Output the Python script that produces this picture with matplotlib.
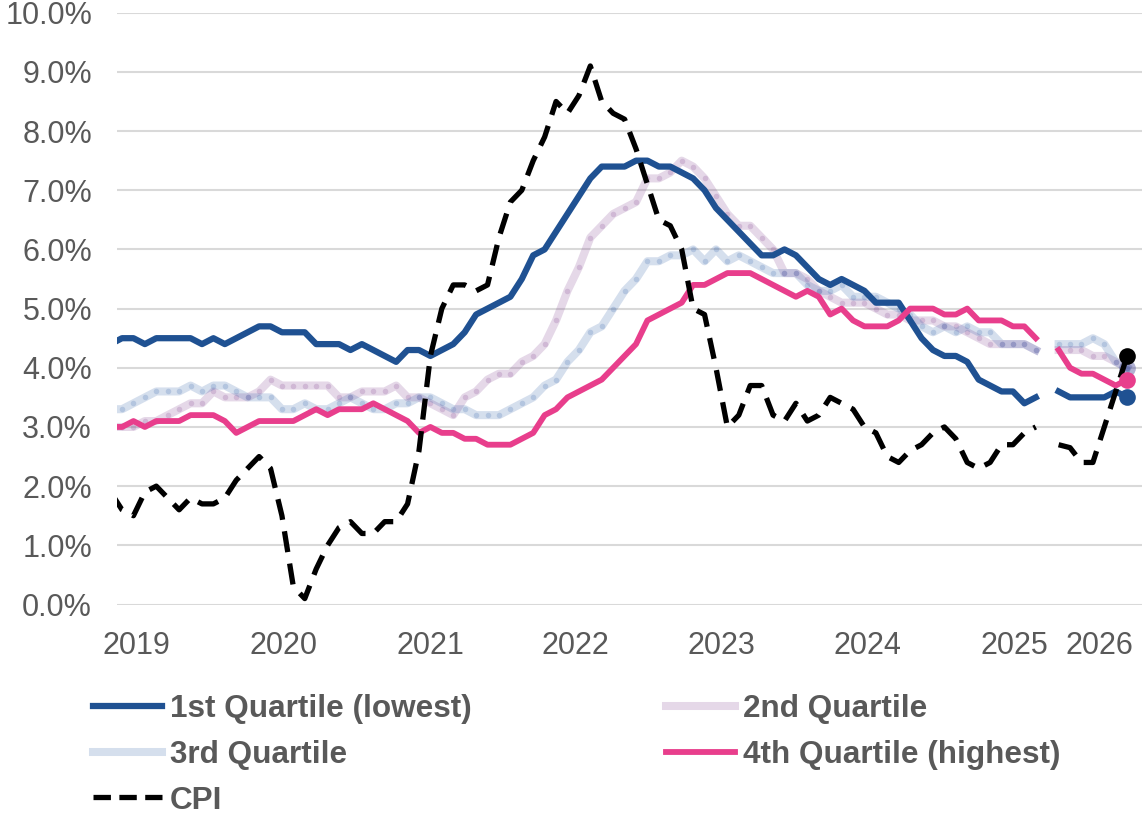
#!/usr/bin/env python3
"""Wage growth by wage quartile vs CPI inflation, monthly Dec 2018 - May 2026.

  python plot.py            # -> out.png
"""
import numpy as np
import pandas as pd
import matplotlib

matplotlib.use("Agg")
import matplotlib.pyplot as plt
from matplotlib.lines import Line2D

nan = np.nan

# monthly observations, Dec 2018 .. May 2026 (Oct 2025 missing)
MONTHS = pd.period_range("2018-12", "2026-05", freq="M")

Q1 = [4.4,
      4.5, 4.5, 4.4, 4.5, 4.5, 4.5, 4.5, 4.4, 4.5, 4.4, 4.5, 4.6,
      4.7, 4.7, 4.6, 4.6, 4.6, 4.4, 4.4, 4.4, 4.3, 4.4, 4.3, 4.2,
      4.1, 4.3, 4.3, 4.2, 4.3, 4.4, 4.6, 4.9, 5.0, 5.1, 5.2, 5.5,
      5.9, 6.0, 6.3, 6.6, 6.9, 7.2, 7.4, 7.4, 7.4, 7.5, 7.5, 7.4,
      7.4, 7.3, 7.2, 7.0, 6.7, 6.5, 6.3, 6.1, 5.9, 5.9, 6.0, 5.9,
      5.7, 5.5, 5.4, 5.5, 5.4, 5.3, 5.1, 5.1, 5.1, 4.8, 4.5, 4.3,
      4.2, 4.2, 4.1, 3.8, 3.7, 3.6, 3.6, 3.4, 3.5, nan, 3.6, 3.5,
      3.5, 3.5, 3.5, 3.6, 3.5]
Q2 = [3.0,
      3.0, 3.0, 3.1, 3.1, 3.2, 3.3, 3.4, 3.4, 3.6, 3.5, 3.5, 3.5,
      3.6, 3.8, 3.7, 3.7, 3.7, 3.7, 3.7, 3.5, 3.5, 3.6, 3.6, 3.6,
      3.7, 3.5, 3.5, 3.4, 3.3, 3.2, 3.5, 3.6, 3.8, 3.9, 3.9, 4.1,
      4.2, 4.4, 4.8, 5.3, 5.7, 6.2, 6.4, 6.6, 6.7, 6.8, 7.2, 7.2,
      7.3, 7.5, 7.4, 7.2, 6.9, 6.6, 6.4, 6.4, 6.2, 6.0, 5.6, 5.6,
      5.5, 5.3, 5.2, 5.1, 5.1, 5.1, 5.0, 4.9, 4.9, 4.8, 4.8, 4.8,
      4.7, 4.7, 4.6, 4.5, 4.4, 4.4, 4.4, 4.4, 4.3, nan, 4.3, 4.3,
      4.3, 4.2, 4.2, 4.1, 4.0]
Q3 = [3.3,
      3.3, 3.4, 3.5, 3.6, 3.6, 3.6, 3.7, 3.6, 3.7, 3.7, 3.6, 3.5,
      3.5, 3.5, 3.3, 3.3, 3.4, 3.3, 3.3, 3.4, 3.5, 3.4, 3.3, 3.3,
      3.4, 3.4, 3.5, 3.5, 3.4, 3.3, 3.3, 3.2, 3.2, 3.2, 3.3, 3.4,
      3.5, 3.7, 3.8, 4.1, 4.3, 4.6, 4.7, 5.0, 5.3, 5.5, 5.8, 5.8,
      5.9, 5.9, 6.0, 5.8, 6.0, 5.8, 5.9, 5.8, 5.7, 5.6, 5.6, 5.6,
      5.4, 5.3, 5.3, 5.4, 5.2, 5.2, 5.2, 5.1, 5.0, 4.9, 4.7, 4.6,
      4.7, 4.6, 4.7, 4.6, 4.6, 4.4, 4.4, 4.4, 4.3, nan, 4.4, 4.4,
      4.4, 4.5, 4.4, 4.1, 4.0]
Q4 = [3.0,
      3.0, 3.1, 3.0, 3.1, 3.1, 3.1, 3.2, 3.2, 3.2, 3.1, 2.9, 3.0,
      3.1, 3.1, 3.1, 3.1, 3.2, 3.3, 3.2, 3.3, 3.3, 3.3, 3.4, 3.3,
      3.2, 3.1, 2.9, 3.0, 2.9, 2.9, 2.8, 2.8, 2.7, 2.7, 2.7, 2.8,
      2.9, 3.2, 3.3, 3.5, 3.6, 3.7, 3.8, 4.0, 4.2, 4.4, 4.8, 4.9,
      5.0, 5.1, 5.4, 5.4, 5.5, 5.6, 5.6, 5.6, 5.5, 5.4, 5.3, 5.2,
      5.3, 5.2, 4.9, 5.0, 4.8, 4.7, 4.7, 4.7, 4.8, 5.0, 5.0, 5.0,
      4.9, 4.9, 5.0, 4.8, 4.8, 4.8, 4.7, 4.7, 4.5, nan, 4.3, 4.0,
      3.9, 3.9, 3.8, 3.7, 3.8]
CPI = [1.9,
       1.6, 1.5, 1.9, 2.0, 1.8, 1.6, 1.8, 1.7, 1.7, 1.8, 2.1, 2.3,
       2.5, 2.3, 1.5, 0.3, 0.1, 0.6, 1.0, 1.3, 1.4, 1.2, 1.2, 1.4,
       1.4, 1.7, 2.6, 4.2, 5.0, 5.4, 5.4, 5.3, 5.4, 6.2, 6.8, 7.0,
       7.5, 7.9, 8.5, 8.3, 8.6, 9.1, 8.5, 8.3, 8.2, 7.7, 7.1, 6.5,
       6.4, 6.0, 5.0, 4.9, 4.0, 3.0, 3.2, 3.7, 3.7, 3.2, 3.1, 3.4,
       3.1, 3.2, 3.5, 3.4, 3.3, 3.0, 2.9, 2.5, 2.4, 2.6, 2.7, 2.9,
       3.0, 2.8, 2.4, 2.3, 2.4, 2.7, 2.7, 2.9, 3.0, nan, 2.7, 2.65,
       2.4, 2.4, 3.0, 3.6, 4.2]

YEARS = ["2019", "2020", "2021", "2022", "2023", "2024", "2025", "2026"]
# where the year labels sit, in months after Jan 2019
YEAR_POS = [1.3, 14.1, 27.0, 39.7, 52.5, 65.3, 78.1, 85.6]

LABELS = ["1st Quartile (lowest)", "2nd Quartile", "3rd Quartile",
          "4th Quartile (highest)", "CPI"]
BLUE = "#1f5192"
PURPLE = "#7d3c8c"
LBLUE = "#2f5fa8"
PINK = "#e83e8c"
TXT = "#595959"
GRID = "#d9d9d9"


def main():
    plt.rcParams.update({
        "font.family": ["Liberation Sans", "DejaVu Sans"],
        "font.size": 22,
        "text.color": TXT,
    })
    fig = plt.figure(figsize=(11.42, 8.14), dpi=100)
    ax = fig.add_axes([117 / 1142, 1 - 604.5 / 814, 1 - 117 / 1142,
                       (604.5 - 12.7) / 814])

    # month index, Jan 2019 = 0
    x = np.array([(m - MONTHS[1]).n for m in MONTHS], float)
    last = len(x) - 1

    ax.plot(x, Q1, color=BLUE, lw=4.5, solid_joinstyle="round", zorder=3)
    for vals, col in ((Q2, PURPLE), (Q3, LBLUE)):
        ax.plot(x, vals, color=col, alpha=0.2, lw=5.8, marker="o", ms=4.0,
                mew=0, solid_joinstyle="round", zorder=2)
        ax.plot(x[last], vals[last], "o", color=col, alpha=0.25, ms=12,
                mew=0, zorder=2)
    ax.plot(x, Q4, color=PINK, lw=4.2, solid_joinstyle="round", zorder=4)
    ax.plot(x, CPI, color="black", lw=3.8, dashes=(4, 2.2),
            dash_capstyle="butt", zorder=5)

    for vals, col in ((Q1, BLUE), (Q4, PINK), (CPI, "black")):
        ax.plot(x[last], vals[last], "o", color=col, ms=12, mew=0, zorder=6)

    ax.set_xlim(-0.44, 89.3)
    ax.set_ylim(0, 10)
    ax.set_yticks(np.arange(0, 11))
    ax.set_yticklabels([f"{v:.1f}%" for v in range(11)])
    ax.set_xticks(YEAR_POS)
    ax.set_xticklabels(YEARS)
    ax.tick_params(axis="both", length=0, labelsize=22, labelcolor=TXT)
    ax.tick_params(axis="x", pad=19)
    ax.tick_params(axis="y", pad=18)
    ax.grid(axis="y", color=GRID, lw=1.5)
    ax.set_axisbelow(True)
    for s in ax.spines.values():
        s.set_visible(False)

    handles = [
        Line2D([], [], color=BLUE, lw=4.5),
        Line2D([], [], color=LBLUE, alpha=0.2, lw=5.8),
        Line2D([], [], color="black", lw=3.8, dashes=(3.3, 1.6)),
        Line2D([], [], color=PURPLE, alpha=0.2, lw=5.8),
        Line2D([], [], color=PINK, lw=4.2),
    ]
    labels = [LABELS[0], LABELS[2], LABELS[4], LABELS[1], LABELS[3]]
    leg = fig.legend(handles, labels, loc="upper left",
                     bbox_to_anchor=(93 / 1142, 1 - 694 / 814), ncol=2,
                     frameon=False, borderpad=0, borderaxespad=0,
                     handlelength=2.2, handletextpad=0.24,
                     columnspacing=6.15, labelspacing=0.5,
                     prop={"weight": "bold", "size": 22.7})
    for t in leg.get_texts():
        t.set_color(TXT)

    fig.savefig("out.png", dpi=100)


if __name__ == "__main__":
    main()
